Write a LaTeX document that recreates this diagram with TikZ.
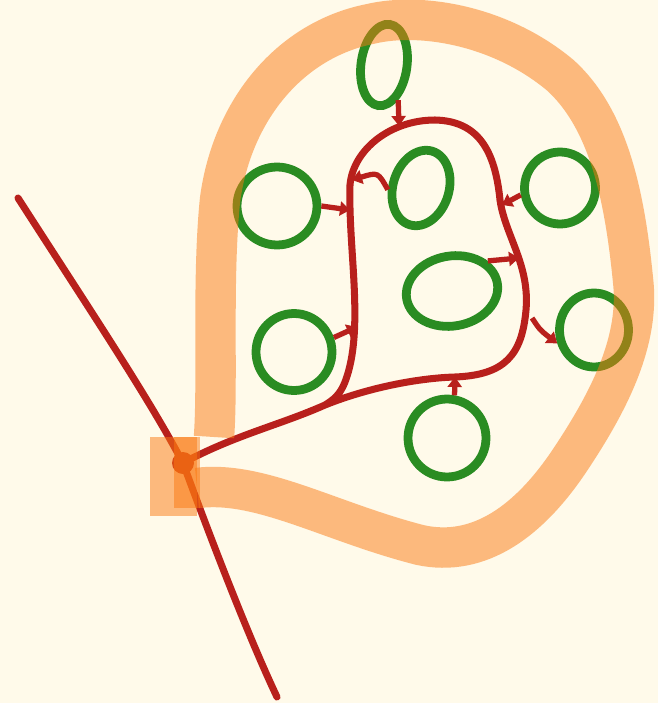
\documentclass[tikz,border=0pt]{standalone}
\usetikzlibrary{shapes.geometric,arrows.meta}
\definecolor{paper}{HTML}{FFFAEA}
\definecolor{halorange}{HTML}{FB7911}
\definecolor{veinred}{HTML}{B8201C}
\definecolor{leafgreen}{HTML}{2A8C22}
\begin{document}
\begin{tikzpicture}[
        x=0.02cm, y=-0.02cm,
        cell/.style={ellipse, draw=leafgreen, line width=5pt, inner sep=0pt},
        vein/.style={draw=veinred, line width=4pt, line cap=round},
        stub/.style={draw=veinred, line width=3pt, -{Triangle[length=0.2cm, width=0.28cm]}},
        halo/.style={draw=halorange, line width=23pt, opacity=0.5}
    ]
        % Paper
        \fill[paper] (0,0) rectangle (658,703);
        \useasboundingbox (0,0) rectangle (658,703);

        % Long stem
        \coordinate (stemtop) at (18,198);
        \coordinate (root) at (183,463);
        \coordinate (stembot) at (277,697);
        \draw[vein] (stemtop) .. controls (90,310) and (150,400) .. (root) .. controls (215,550) and (250,640) .. (stembot);

        % Branch network
        \coordinate (fork) at (325,405);
        \draw[vein] (root) .. controls (235,435) and (280,425) .. (fork)
            .. controls (370,387) and (420,378) .. (455,377)
            .. controls (505,375) and (522,355) .. (526,310)
            .. controls (530,265) and (505,235) .. (500,200)
            .. controls (495,150) and (478,121) .. (435,120)
            .. controls (390,120) and (353,150) .. (350,185)
            .. controls (348,250) and (365,330) .. (345,382)
            .. controls (340,395) and (333,400) .. (fork);
        \fill[veinred] (root) circle (11);

        % Cells
        \node[cell, minimum width=0.92cm, minimum height=1.64cm, rotate=-8] (c1) at (384,65) {};
        \node[cell, minimum width=1.6cm, minimum height=1.56cm] (c2) at (277,206) {};
        \node[cell, minimum width=1.12cm, minimum height=1.54cm, rotate=-17] (c3) at (421,188) {};
        \node[cell, minimum width=1.42cm, minimum height=1.44cm] (c4) at (560,188) {};
        \node[cell, minimum width=1.84cm, minimum height=1.4cm, rotate=10] (c5) at (452,291) {};
        \node[cell, minimum width=1.52cm, minimum height=1.54cm] (c6) at (294,352) {};
        \node[cell, minimum width=1.38cm, minimum height=1.48cm] (c7) at (594,330) {};
        \node[cell, minimum width=1.56cm, minimum height=1.56cm] (c8) at (447,438) {};

        % Stubs into the network
        \coordinate (t1) at (399,126);
        \coordinate (t2) at (350,210);
        \coordinate (t3) at (352,180);
        \coordinate (t4) at (502,205);
        \coordinate (t5) at (519,258);
        \coordinate (t6) at (357,327);
        \coordinate (u7) at (532,318);
        \coordinate (t8) at (455,377);
        \draw[stub] (c1.300) -- (t1);
        \draw[stub] (c2.east) -- (t2);
        \draw[stub] (c3.200) .. controls (378,172) .. (t3);
        \draw[stub] (c4.190) -- (t4);
        \draw[stub] (c5.30) -- (t5);
        \draw[stub] (c6.20) -- (t6);
        \draw[stub] (u7) .. controls (540,330) .. (c7.200);
        \draw[stub] (c8.80) -- (t8);

        % Orange loop round the whole thing
        \draw[halo] (197,488) .. controls (260,480) and (330,522) .. (420,545)
            .. controls (480,558) and (530,520) .. (570,460)
            .. controls (610,400) and (640,340) .. (633,280)
            .. controls (625,200) and (610,120) .. (560,75)
            .. controls (500,25) and (420,12) .. (370,24)
            .. controls (290,40) and (232,110) .. (220,200)
            .. controls (212,280) and (218,380) .. (214,437);
        \fill[halorange, opacity=0.5] (150,437) rectangle (197,516);
        \fill[halorange, opacity=0.5] (174,437) rectangle (200,508);

    \end{tikzpicture}
\end{document}
